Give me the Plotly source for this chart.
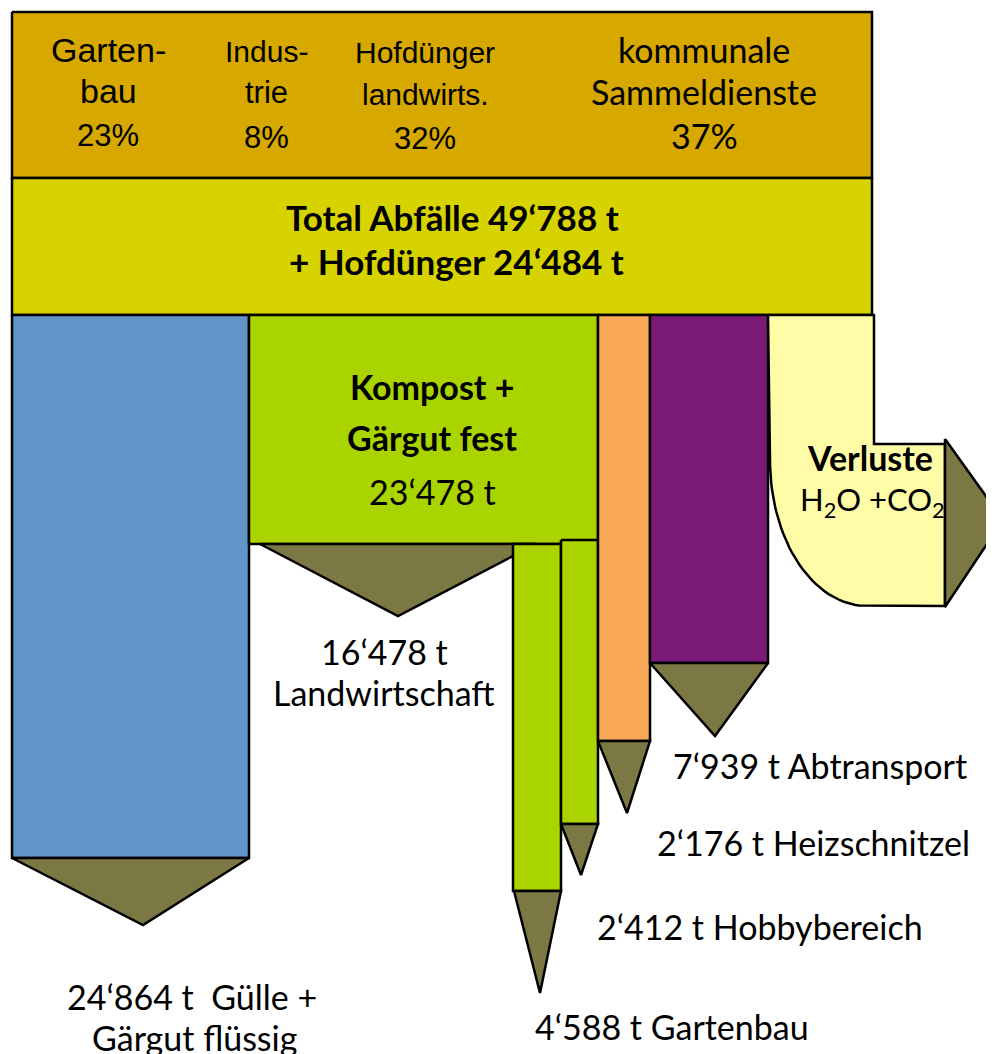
import numpy as np
import plotly.graph_objects as go

# ---- data (tonnes per year) ----
source_lines = [["Garten-", "bau"], ["Indus-", "trie"], ["Hofdünger", "landwirts."], ["kommunale", "Sammeldienste"]]
source_share = [23, 8, 32, 37]
total_waste = 49788
manure_total = 24484
compost_total = 23478
output_names = ["Gülle +", "Landwirtschaft", "Gartenbau", "Hobbybereich", "Heizschnitzel", "Abtransport"]
output_tonnes = [24864, 16478, 4588, 2412, 2176, 7939]
loss_title = "Verluste"
loss_text = "H<sub>2</sub>O +CO<sub>2</sub>"


def fmt(v):
    return f"{v:,}".replace(",", "\u2018")


# ---- layout geometry (page pixel coordinates, y downwards) ----
W, H = 994, 1054
PAD = 8  # body margin of the html page
LEFT, RIGHT = 12, 872
TOP, MID, BASE = 12, 178, 315
OLIVE = "#7B7843"
BODY = "Lato, Carlito, sans-serif"
ARIAL = "Liberation Sans, Arial, sans-serif"

fig = go.Figure()


def poly(xs, ys, color):
    fig.add_trace(go.Scatter(
        x=list(xs) + [xs[0]], y=list(ys) + [ys[0]],
        mode="lines", fill="toself", fillcolor=color,
        line=dict(color="black", width=2.5),
        hoverinfo="skip", showlegend=False,
    ))


def rect(x0, y0, x1, y1, color):
    poly([x0, x1, x1, x0], [y0, y0, y1, y1], color)


def arrow_down(x0, x1, y, tip_x, tip_y):
    poly([x0, x1, tip_x], [y, y, tip_y], OLIVE)


def label(x, y, text, size, family=BODY, anchor="center"):
    fig.add_annotation(x=x, y=y, text=text, showarrow=False, xanchor=anchor, yanchor="middle",
                       font=dict(family=family, size=size, color="black"))


# header boxes
rect(LEFT, TOP, RIGHT, MID, "#D6A800")
rect(LEFT, MID, RIGHT, BASE, "#D7D300")

# Gülle + Gärgut flüssig
rect(LEFT, BASE, 249, 858, "#6195C8")
arrow_down(LEFT, 249, 858, 143, 925)

# Kompost + Gärgut fest
rect(249, BASE, 598, 544, "#AAD400")
arrow_down(260, 536, 544, 398, 616)

# Gartenbau / Hobbybereich
rect(513, 544, 561, 891, "#AAD400")
arrow_down(514, 561, 891, 540, 993)
rect(561, 540, 598, 824, "#AAD400")
arrow_down(561, 598, 824, 581, 875)

# Heizschnitzel / Abtransport
rect(598, BASE, 650, 741, "#F9A857")
arrow_down(598, 650, 741, 627, 813)
rect(650, BASE, 768, 663, "#7B1A78")
arrow_down(650, 768, 663, 715, 736)

# Verluste: bent flow to the right
th = np.linspace(0, np.pi / 2, 40)
cx, cy, rx, ry = 867, 460, 97, 146
curve_x = cx - rx * np.cos(th)
curve_y = cy + ry * np.sin(th)
vx = [768, 874, 874, 945, 945] + list(curve_x[::-1])
vy = [BASE, BASE, 444, 444, 606] + list(curve_y[::-1])
poly(vx, vy, "#FFFCA8")
poly([945, 945, 1003], [439, 607, 520], OLIVE)

# ---- texts ----
src_x = [108, 266, 425, 704]
src_y = [[50, 91, 135], [51, 92, 137], [52, 94, 138], [49, 91, 135]]
src_font = [[ARIAL] * 3, [ARIAL] * 3, [ARIAL] * 3, [BODY] * 3]
src_size = [[34, 34, 31], [30, 31, 31], [30, 30, 31], [34, 34, 34]]
for i, (lines, share) in enumerate(zip(source_lines, source_share)):
    texts = [lines[0], lines[1], f"{share}%"]
    for j in range(3):
        label(src_x[i], src_y[i][j], texts[j], src_size[i][j], src_font[i][j])

label(452, 217, f"<b>Total Abfälle {fmt(total_waste)} t</b>", 35)
label(456, 261, f"<b>+ Hofdünger {fmt(manure_total)} t</b>", 35)

label(432, 386, "<b>Kompost +</b>", 34)
label(432, 437, "<b>Gärgut fest</b>", 34)
label(432, 491, f"{fmt(compost_total)} t", 34)

label(870, 457, f"<b>{loss_title}</b>", 34)
label(872, 501, loss_text, 31)

label(384, 651, f"{fmt(output_tonnes[1])} t", 34)
label(384, 692, output_names[1], 34)

label(192, 996, f"{fmt(output_tonnes[0])} t  {output_names[0]}", 34)
label(194, 1037, "Gärgut flüssig", 34)

label(671, 765, f"{fmt(output_tonnes[5])} t {output_names[5]}", 34, anchor="left")
label(655, 842, f"{fmt(output_tonnes[4])} t {output_names[4]}", 34, anchor="left")
label(595, 926, f"{fmt(output_tonnes[3])} t {output_names[3]}", 34, anchor="left")
label(533, 1026, f"{fmt(output_tonnes[2])} t {output_names[2]}", 34, anchor="left")

fig.update_layout(
    width=W - PAD, height=H - PAD,
    margin=dict(l=0, r=0, t=0, b=0),
    paper_bgcolor="white", plot_bgcolor="white",
    xaxis=dict(range=[PAD, W], visible=False, fixedrange=True),
    yaxis=dict(range=[H, PAD], visible=False, fixedrange=True),
)

fig.write_html("out.html")
